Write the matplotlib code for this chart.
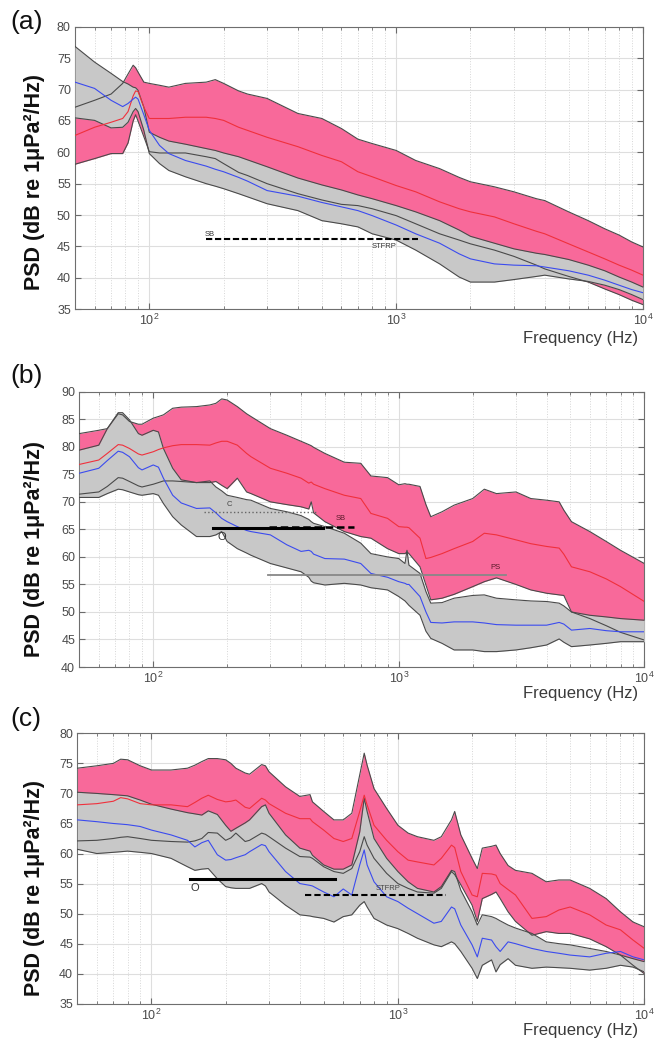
import numpy as np
import matplotlib
matplotlib.use("Agg")
import matplotlib.pyplot as plt
from matplotlib.ticker import MultipleLocator, LogLocator, NullFormatter

plt.rcParams['font.family'] = ['Liberation Sans', 'DejaVu Sans']

# ---- panel (a) ----
fa = [50, 60, 70, 78, 82, 86, 88, 90, 95, 100, 110, 120, 140, 170, 185, 200, 230, 250, 300, 400,
      500, 600, 700, 800, 1000, 1200, 1500, 1800, 2000, 2500, 3000, 3700, 4000, 5000, 6000, 7000,
      8000, 9000, 10000]
pu_a = [67.2, 68.3, 69.3, 71.0, 72.5, 73.9, 73.5, 72.8, 71.2, 71.0, 70.7, 70.4, 71.0, 71.2, 71.6, 71.0,
        69.8, 69.3, 68.6, 66.2, 65.4, 63.8, 62.1, 61.4, 60.3, 58.7, 57.4, 56.0, 55.3, 54.5, 53.7, 52.6,
        52.3, 50.5, 49.1, 47.8, 46.8, 45.7, 44.9]
red_a = [62.7, 64.0, 64.8, 65.4, 66.5, 69.0, 69.8, 69.7, 67.2, 65.4, 65.4, 65.4, 65.6, 65.6, 65.4, 65.1,
         64.0, 63.5, 62.4, 60.9, 59.5, 58.5, 56.9, 56.1, 54.7, 53.7, 52.1, 51.0, 50.5, 49.7, 48.6, 47.4,
         47.0, 45.4, 44.1, 43.0, 42.0, 41.2, 40.4]
pl_a = [58.1, 59.0, 59.8, 59.8, 61.5, 65.0, 66.0, 65.0, 62.5, 60.1, 59.9, 59.9, 59.9, 59.3, 59.0, 58.2,
        56.8, 56.3, 55.0, 53.4, 52.4, 51.7, 51.5, 51.0, 49.9, 48.6, 47.0, 46.0, 45.4, 44.4, 43.4, 42.0,
        41.4, 40.2, 39.3, 38.2, 37.3, 36.4, 35.7]
gu_a = [76.9, 74.4, 72.6, 71.3, 70.9, 70.4, 70.3, 69.9, 67.2, 63.2, 62.4, 61.8, 61.3, 60.6, 60.3, 59.9,
        59.3, 58.8, 57.7, 55.9, 54.8, 54.0, 53.2, 52.6, 51.5, 50.5, 49.1, 47.6, 46.6, 45.5, 44.6, 43.9,
        43.7, 42.9, 42.0, 41.1, 40.1, 39.3, 38.5]
blue_a = [71.2, 70.2, 68.3, 67.3, 67.8, 68.5, 68.8, 68.5, 66.0, 63.5, 61.1, 59.8, 58.7, 57.8, 57.3, 56.9,
          56.0, 55.4, 53.9, 53.0, 52.0, 51.3, 50.7, 49.9, 48.4, 47.0, 45.5, 43.8, 43.0, 42.2, 42.0, 41.9,
          41.7, 41.1, 40.4, 39.6, 38.8, 38.1, 37.6]
gl_a = [65.5, 65.1, 63.9, 64.0, 64.8, 66.5, 67.0, 66.5, 63.5, 59.8, 58.2, 57.1, 56.1, 55.0, 54.6, 54.2,
        53.4, 52.9, 51.8, 50.7, 49.1, 48.6, 48.1, 47.0, 46.0, 44.4, 42.2, 40.1, 39.3, 39.3, 39.7, 40.2,
        40.4, 39.8, 39.4, 38.8, 38.1, 37.3, 36.5]

# ---- panel (b) ----
fb = [50, 60, 65, 72, 75, 80, 87, 90, 100, 105, 110, 120, 130, 150, 170, 180, 190, 200, 220, 240,
      250, 300, 350, 400, 430, 440, 450, 500, 600, 700, 770, 900, 1000, 1060, 1080, 1100, 1220, 1290,
      1350, 1500, 1680, 2000, 2230, 2500, 3000, 3450, 4000, 4500, 4700, 5050, 6000, 7000, 8000, 10000]
pu_b = [82.4, 83.0, 83.3, 86.0, 85.8, 84.6, 84.1, 84.1, 85.2, 85.5, 85.8, 87.0, 87.2, 87.3, 87.6, 87.9,
        88.7, 88.5, 87.3, 86.0, 85.5, 83.3, 82.1, 81.0, 80.4, 80.2, 79.9, 78.8, 77.2, 77.0, 74.7, 74.4,
        73.1, 73.3, 73.2, 73.2, 72.8, 69.5, 67.3, 68.2, 69.4, 70.6, 72.3, 71.5, 71.8, 70.6, 70.3, 70.0,
        68.5, 66.4, 64.6, 62.8, 61.2, 58.8]
red_b = [76.8, 77.6, 78.8, 80.4, 80.3, 79.7, 78.7, 78.5, 79.1, 79.5, 79.8, 80.2, 80.4, 80.4, 80.3, 80.7,
         81.0, 81.0, 80.3, 78.8, 78.2, 76.1, 75.2, 74.3, 73.4, 73.6, 73.2, 72.4, 71.2, 70.6, 67.9, 67.0,
         65.5, 65.4, 65.4, 65.3, 63.4, 59.7, 59.9, 60.6, 61.5, 62.8, 64.3, 64.0, 63.1, 62.4, 61.9, 61.6,
         60.5, 58.2, 57.3, 56.0, 54.6, 51.9]
pl_b = [71.4, 71.8, 72.8, 74.4, 74.3, 73.7, 72.9, 72.7, 73.2, 73.5, 73.8, 73.8, 73.7, 73.5, 73.5, 73.7,
        73.0, 72.4, 74.3, 71.8, 71.5, 70.0, 69.5, 69.1, 68.7, 70.0, 68.0, 66.4, 64.6, 63.7, 63.4, 61.5,
        60.6, 60.6, 60.9, 60.6, 58.2, 54.9, 52.2, 52.5, 53.2, 54.6, 55.5, 56.2, 55.0, 54.0, 53.4, 53.1,
        53.0, 50.0, 48.8, 47.5, 46.3, 44.9]
gu_b = [79.4, 80.3, 83.3, 86.2, 86.2, 84.9, 82.4, 82.1, 83.0, 82.7, 79.7, 76.1, 74.0, 73.5, 73.8, 72.7,
        72.0, 71.2, 70.8, 70.4, 70.3, 68.8, 68.2, 67.5, 66.8, 66.4, 66.1, 65.5, 64.3, 62.5, 60.6, 60.0,
        59.7, 58.8, 61.2, 58.5, 57.0, 53.7, 51.6, 51.7, 52.5, 53.0, 53.1, 52.5, 52.2, 52.0, 51.9, 51.6,
        51.1, 50.0, 49.4, 49.1, 48.8, 48.5]
blue_b = [75.2, 76.1, 77.5, 79.2, 79.0, 78.2, 76.2, 75.8, 76.7, 76.3, 74.3, 71.2, 69.8, 68.8, 68.9, 68.0,
          67.0, 66.4, 65.5, 64.8, 64.6, 64.0, 62.2, 61.0, 61.2, 61.0, 60.5, 59.7, 59.6, 58.8, 57.0, 56.3,
          55.5, 55.2, 55.0, 55.0, 52.8, 50.0, 48.1, 48.0, 48.2, 48.2, 48.0, 47.7, 47.6, 47.6, 47.6, 48.1,
          47.8, 46.7, 47.0, 46.6, 46.4, 46.4]
gl_b = [70.8, 70.8, 71.5, 72.3, 72.2, 71.8, 71.3, 71.2, 71.5, 71.2, 69.7, 67.3, 65.8, 63.7, 63.7, 64.0,
        64.6, 62.8, 61.5, 60.7, 60.3, 58.8, 58.0, 57.3, 56.3, 55.6, 55.3, 54.9, 55.2, 54.9, 54.4, 54.0,
        52.8, 52.0, 51.6, 51.2, 49.4, 46.5, 45.2, 44.3, 43.1, 43.1, 42.8, 42.8, 43.1, 43.5, 44.0, 45.1,
        44.5, 43.7, 44.0, 44.3, 44.6, 44.6]

# ---- panel (c) ----
fc = [50, 60, 70, 75, 80, 90, 100, 120, 140, 150, 160, 170, 185, 200, 210, 220, 240, 250, 280, 290,
      300, 350, 400, 440, 450, 500, 550, 600, 650, 700, 730, 750, 800, 900, 1000, 1100, 1200, 1400,
      1500, 1650, 1700, 1800, 2000, 2100, 2200, 2400, 2500, 2600, 2800, 3000, 3500, 4000, 4500, 5000,
      6000, 7000, 8000, 9000, 10000]
pu_c = [74.2, 74.6, 75.0, 75.7, 75.6, 74.6, 73.9, 73.9, 74.2, 74.7, 75.3, 75.8, 75.8, 75.6, 75.0, 74.2,
        73.4, 73.2, 74.8, 74.6, 73.6, 71.1, 69.5, 69.8, 68.6, 67.0, 65.6, 65.6, 66.7, 73.1, 76.7, 74.7,
        70.8, 67.5, 64.7, 63.4, 62.8, 62.2, 62.8, 65.6, 67.0, 63.1, 59.2, 57.5, 60.9, 61.2, 61.4, 60.0,
        58.0, 57.2, 56.7, 55.3, 55.6, 55.6, 54.2, 52.5, 50.3, 48.6, 47.8]
red_c = [68.1, 68.3, 68.7, 69.3, 69.1, 68.3, 68.1, 68.1, 67.8, 68.5, 69.2, 69.7, 69.0, 68.6, 68.7, 68.9,
         67.7, 67.5, 69.2, 68.9, 68.3, 66.7, 65.8, 65.8, 65.3, 63.9, 62.5, 62.0, 62.5, 67.0, 69.7, 68.1,
         64.7, 62.2, 60.3, 58.9, 58.6, 58.1, 59.2, 61.4, 61.0, 57.0, 53.1, 52.8, 56.7, 56.6, 56.4, 55.0,
         54.0, 53.1, 49.2, 49.5, 50.6, 51.1, 49.8, 48.1, 47.3, 45.6, 44.2]
pl_c = [62.1, 62.2, 62.5, 62.7, 62.8, 62.5, 62.2, 62.0, 61.9, 62.1, 62.5, 63.5, 63.4, 62.2, 62.6, 63.4,
        62.0, 62.2, 63.4, 63.2, 62.8, 60.9, 59.5, 59.4, 59.2, 57.8, 57.0, 56.7, 57.5, 60.3, 62.8, 61.4,
        59.2, 56.7, 55.0, 54.2, 53.6, 53.4, 54.2, 57.0, 56.5, 54.8, 51.4, 48.7, 52.5, 53.2, 53.6, 52.5,
        50.3, 48.7, 46.4, 47.0, 46.7, 46.7, 45.8, 44.5, 43.1, 41.4, 40.0]
gu_c = [70.2, 70.0, 69.8, 69.7, 69.6, 68.9, 68.2, 67.4, 66.8, 66.6, 66.4, 67.1, 66.5, 64.7, 63.7, 64.2,
        65.1, 65.6, 67.8, 68.1, 66.7, 63.1, 60.9, 60.4, 59.7, 58.1, 57.4, 57.4, 58.1, 63.6, 69.2, 67.0,
        62.5, 59.2, 57.0, 55.3, 54.2, 53.6, 54.5, 57.2, 57.0, 53.9, 50.3, 48.1, 49.8, 49.5, 49.2, 48.8,
        48.1, 47.6, 46.7, 45.3, 45.0, 44.8, 44.2, 43.7, 43.1, 42.5, 42.0]
blue_c = [65.6, 65.3, 65.0, 64.9, 64.8, 64.5, 63.9, 63.1, 62.2, 61.1, 61.8, 62.2, 59.8, 58.9, 59.0, 59.3,
          59.8, 60.3, 61.5, 61.3, 60.3, 57.0, 55.0, 54.7, 54.6, 53.6, 52.8, 54.1, 53.1, 58.1, 60.6, 58.1,
          55.3, 52.8, 52.0, 50.9, 50.0, 48.4, 48.7, 51.1, 50.8, 48.1, 44.8, 42.8, 45.9, 45.6, 44.5, 43.7,
          45.3, 45.0, 44.2, 43.7, 43.4, 43.1, 42.8, 43.4, 43.7, 42.8, 42.3]
gl_c = [60.7, 60.0, 60.2, 60.3, 60.4, 60.2, 60.0, 59.2, 57.8, 57.2, 57.4, 57.5, 55.8, 54.5, 54.3, 54.2,
        54.2, 54.2, 55.0, 54.6, 53.6, 51.4, 49.8, 49.6, 49.5, 49.2, 48.6, 49.5, 49.8, 51.4, 52.0, 51.1,
        49.2, 48.1, 47.5, 46.7, 45.9, 44.8, 44.5, 45.3, 45.0, 43.7, 40.9, 39.2, 41.4, 42.3, 40.3, 41.5,
        42.5, 41.4, 40.9, 41.1, 41.0, 40.9, 40.6, 40.9, 41.4, 41.1, 40.3]

PINK = '#F8699A'
GRAY = '#C8C8C8'
EDGE = '#4A4A4A'
RED = '#F0303C'
BLUE = '#3B4BEF'


def panel(ax, f, pu, red, pl, gu, blue, gl, ylim):
    ax.fill_between(f, pl, pu, color=PINK, lw=0, zorder=2)
    ax.fill_between(f, gl, gu, color=GRAY, lw=0, zorder=3)
    for y in (pu, pl, gu, gl):
        ax.plot(f, y, color=EDGE, lw=0.8, zorder=4)
    ax.plot(f, red, color=RED, lw=0.8, zorder=5)
    ax.plot(f, blue, color=BLUE, lw=0.8, zorder=5)
    ax.set_xscale('log')
    ax.set_xlim(50, 10000)
    ax.set_ylim(*ylim)
    ax.yaxis.set_major_locator(MultipleLocator(5))
    ax.xaxis.set_minor_locator(LogLocator(base=10, subs=np.arange(2, 10), numticks=20))
    ax.xaxis.set_minor_formatter(NullFormatter())
    ax.set_axisbelow(True)
    ax.grid(True, which='major', color='#dedede', lw=0.8)
    ax.grid(True, which='minor', axis='x', color='#d6d6d6', lw=0.7, ls=':')
    ax.tick_params(which='both', direction='in', top=True, right=True, colors='#6a6a6a',
                   labelcolor='#4a4a4a', labelsize=9, pad=3)
    ax.tick_params(which='major', length=4)
    ax.tick_params(which='minor', length=2.5)
    for s in ax.spines.values():
        s.set_color('#6e6e6e')
        s.set_linewidth(0.8)


fig = plt.figure(figsize=(6.54, 10.38), dpi=100)
ax_a = fig.add_axes([0.1147, 0.7023, 0.8685, 0.2717])
ax_b = fig.add_axes([0.1213, 0.3574, 0.8639, 0.2652])
ax_c = fig.add_axes([0.1182, 0.0330, 0.8670, 0.2605])

panel(ax_a, fa, pu_a, red_a, pl_a, gu_a, blue_a, gl_a, (35, 80))
panel(ax_b, fb, pu_b, red_b, pl_b, gu_b, blue_b, gl_b, (40, 90))
panel(ax_c, fc, pu_c, red_c, pl_c, gu_c, blue_c, gl_c, (35, 80))

# annotations (a)
ax_a.plot([170, 1230], [46.1, 46.1], color='k', lw=1.5, ls=(0, (3, 1.3)), zorder=6)
ax_a.text(168, 46.4, 'SB', fontsize=5.5, color='#333333', ha='left', va='bottom', zorder=7)
ax_a.text(890, 45.6, 'STFRP', fontsize=5.5, color='#333333', ha='center', va='top', zorder=7)

# annotations (b)
ax_b.plot([161, 464], [68.1, 68.1], color='#666666', lw=1.0, ls=':', zorder=6)
ax_b.text(204, 68.8, 'C', fontsize=5.5, color='#444444', ha='center', va='bottom', zorder=7)
ax_b.plot([296, 656], [65.5, 65.5], color='k', lw=1.8, ls=(0, (3, 1.5)), zorder=6)
ax_b.plot([175, 491], [65.3, 65.3], color='k', lw=2.2, zorder=6)
ax_b.text(190, 64.6, 'O', fontsize=8, color='#333333', ha='center', va='top', zorder=7)
ax_b.text(580, 66.4, 'SB', fontsize=5.5, color='#5a1a2a', ha='center', va='bottom', zorder=7)
ax_b.plot([293, 2740], [56.8, 56.8], color='#888888', lw=1.3, zorder=6)
ax_b.text(2480, 57.5, 'PS', fontsize=5.5, color='#5a1a2a', ha='center', va='bottom', zorder=7)

# annotations (c)
ax_c.plot([143, 554], [55.75, 55.75], color='k', lw=2.2, zorder=6)
ax_c.text(150, 55.1, 'O', fontsize=8, color='#333333', ha='center', va='top', zorder=7)
ax_c.plot([419, 1572], [53.1, 53.1], color='k', lw=1.5, ls=(0, (3, 1.5)), zorder=6)
ax_c.text(916, 53.6, 'STFRP', fontsize=5.5, color='#444444', ha='center', va='bottom', zorder=7)

ylab = 'PSD (dB re 1\u03bcPa\u00b2/Hz)'
for yc in (0.8247, 0.4711, 0.1445):
    fig.text(0.0535, yc, ylab, rotation=90, fontsize=15.5, fontweight='bold',
             ha='center', va='center', color='#111111')
for yc in (0.674, 0.332, 0.0077):
    fig.text(0.9755, yc, 'Frequency (Hz)', fontsize=12, ha='right', va='center', color='#3a3a3a')
for lab, yc in (('(a)', 0.979), ('(b)', 0.638), ('(c)', 0.307)):
    fig.text(0.04, yc, lab, fontsize=19, ha='center', va='center', color='#111111')

fig.savefig('out.png', dpi=100)
